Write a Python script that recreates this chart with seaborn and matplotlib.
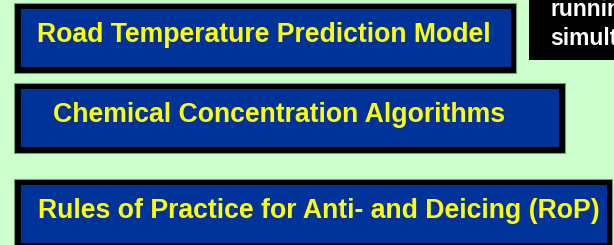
import matplotlib
matplotlib.use("Agg")
import matplotlib.pyplot as plt
from matplotlib.patches import Rectangle
import seaborn as sns

# ---- content ----
box_labels = [
    "Road Temperature Prediction Model",
    "Chemical Concentration Algorithms",
    "Rules of Practice for Anti- and Deicing (RoP)",
]
note_lines = ["running", "simultaneously"]

# ---- layout (pixel coordinates, y downward) ----
outer_boxes = [(14, 3, 516, 73), (14, 83, 565, 153), (14, 179, 612, 249)]
inner_boxes = [(21, 9, 511, 67), (21, 89, 559, 147), (21, 185, 607, 243)]
text_pos = [(37, 42.5), (53, 122), (38, 217.5)]
note_box = (529, -2, 620, 60)
note_pos = [(550, 16), (550, 45)]

BG = "#CCFFCC"
BLUE = "#003399"
YELLOW = "#FFFF00"

sns.set_theme(style="white")
plt.rcParams["font.family"] = ["Liberation Sans", "DejaVu Sans"]

W, H = 614, 245
fig = plt.figure(figsize=(W / 100, H / 100), dpi=100, facecolor=BG)
ax = fig.add_axes([0, 0, 1, 1])
ax.set_facecolor(BG)
ax.set_xlim(0, W)
ax.set_ylim(H, 0)
ax.set_axis_off()


def rect(box, fc, ec="none", lw=0):
    x0, y0, x1, y1 = box
    ax.add_patch(Rectangle((x0, y0), x1 - x0, y1 - y0, facecolor=fc,
                           edgecolor=ec, linewidth=lw))


for ob, ib, (tx, ty), label in zip(outer_boxes, inner_boxes, text_pos, box_labels):
    rect(ob, "black", ec="#7a9a7a", lw=0.8)
    rect(ib, BLUE)
    ax.text(tx, ty, label, color=YELLOW, fontsize=19.2, fontweight="bold",
            ha="left", va="baseline")

rect(note_box, "black")
for (tx, ty), line in zip(note_pos, note_lines):
    ax.text(tx, ty, line, color="white", fontsize=16.5, fontweight="bold",
            ha="left", va="baseline")

sns.despine(ax=ax, left=True, bottom=True)
fig.savefig("out.png", dpi=100, facecolor=BG)
